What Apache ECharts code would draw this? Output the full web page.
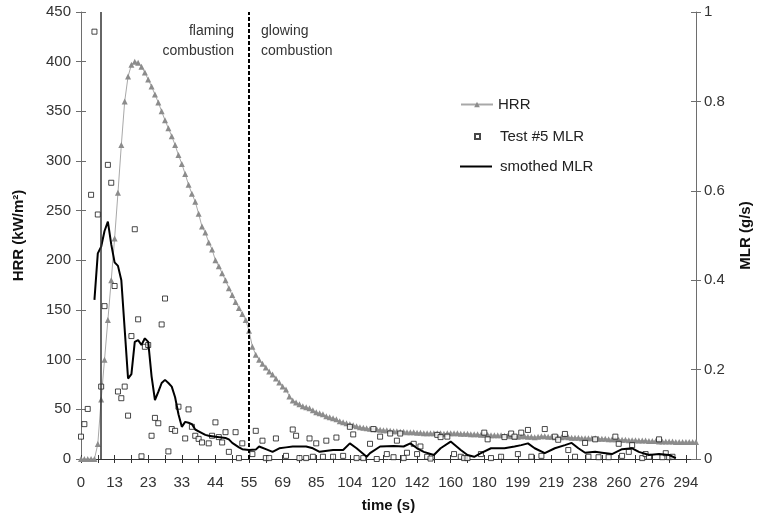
<!DOCTYPE html>
<html><head><meta charset="utf-8">
<script src="https://cdn.jsdelivr.net/npm/echarts@6/dist/echarts.min.js"></script>
<style>html,body{margin:0;padding:0;background:#fff}#c{width:761px;height:520px}</style>
</head><body><div id="c"></div>
<script>
// x-axis tick labels (time in s), one every 10 samples
const tickLabels = [0,13,23,33,44,55,69,85,104,120,142,160,180,199,219,238,260,276,294];

// HRR (kW/m2), one value per sample
const hrr = [
0,0,0,0,0,15,60,100,140,180,
222,268,316,360,385,397,400,399,395,389,
382,375,367,359,350,341,333,325,316,306,
297,287,276,267,259,247,234,228,218,211,
200,194,187,180,172,165,158,152,146,140,
129,113,105,100,96,92,88,85,81,77,
73,70,63,59,57,55,53,52,51,49,
47,46,45,43,42,41,40,38,37,36,
35,34,33,32,31.5,31,30.5,30,30,29.5,
29,29,28.5,28,28,27.5,27.5,27,27,27,
26.5,26.5,26,26,26,26,26,26,25.5,26,
26,26,26,25.5,25.5,25.5,25,25,25,24.5,
24.5,24.5,24,24,24,24,23.5,23.5,23,22.5,
22.5,23,23,22.5,22.5,22,22.5,23,23,22.5,
22.5,22,22,22,22.5,22,21.5,21.5,21.5,21,
21,21,21,21,20.5,20.5,20.5,20,20,20,
19.5,19.5,19.5,19,19,19,18.5,18.5,18.5,18,
18,18,17.5,17.5,17.5,17.5,17.5,17,17,17,
17,17,17,17
];

// Test #5 MLR (g/s): [sample index, value]
const mlrTest = [
[0,0.05],[1,0.078],[2,0.112],[3,0.591],[4,0.956],[5,0.547],[6,0.162],[7,0.342],[8,0.658],[9,0.618],
[10,0.387],[11,0.151],[12,0.136],[13,0.162],[14,0.097],[15,0.275],[16,0.514],[17,0.3125],[18,0.006],[19,0.251],
[20,0.255],[21,0.052],[22,0.092],[23,0.08],[24,0.301],[25,0.359],[26,0.017],[27,0.067],[28,0.063],[29,0.117],
[31,0.046],[32,0.111],[33,0.072],[34,0.052],[35,0.045],[36,0.037],[38,0.035],[39,0.052],[40,0.082],[41,0.049],
[42,0.037],[43,0.06],[44,0.016],[46,0.06],[47,0.002],[48,0.035],[51,0.011],[52,0.063],[54,0.041],[55,0.002],
[56,0.002],[58,0.046],[61,0.007],[63,0.066],[64,0.052],[65,0.002],[67,0.002],[68,0.046],[69,0.005],[70,0.035],
[72,0.005],[73,0.041],[75,0.005],[76,0.048],[78,0.007],[80,0.072],[81,0.055],[82,0.002],[84,0.002],[86,0.034],
[87,0.067],[88,0.0],[89,0.05],[91,0.011],[92,0.057],[93,0.004],[94,0.041],[95,0.057],[96,0.002],[97,0.014],
[99,0.034],[100,0.011],[101,0.028],[103,0.005],[104,0.001],[106,0.054],[107,0.049],[109,0.05],[111,0.011],[113,0.005],
[114,0.002],[115,0.002],[119,0.011],[120,0.059],[121,0.044],[122,0.002],[125,0.005],[126,0.049],[128,0.057],[129,0.05],
[130,0.011],[131,0.059],[133,0.065],[134,0.005],[137,0.007],[138,0.067],[141,0.05],[142,0.043],[144,0.056],[145,0.02],
[147,0.005],[150,0.036],[151,0.005],[153,0.044],[154,0.004],[157,0.004],[159,0.05],[160,0.034],[161,0.007],[163,0.016],
[164,0.031],[167,0.002],[168,0.011],[169,0.005],[172,0.044],[173,0.004],[174,0.013],[175,0.004],[176,0.005]
];

// smoothed MLR (g/s): [sample index, value]
const mlrSmoothed = [
[4,0.356],[5,0.46],[6,0.475],[7,0.51],[8,0.531],[9,0.48],[10,0.44],[11,0.432],[12,0.40],[13,0.29],
[14,0.18],[15,0.19],[16,0.262],[17,0.266],[18,0.255],[19,0.27],[20,0.262],[21,0.185],[22,0.132],[23,0.15],
[24,0.17],[25,0.177],[26,0.17],[27,0.162],[28,0.138],[29,0.1],[30,0.072],[31,0.083],[32,0.081],[33,0.078],
[34,0.066],[35,0.062],[36,0.058],[37,0.054],[38,0.052],[40,0.05],[43,0.047],[44,0.044],[45,0.036],[47,0.026],
[48,0.022],[50,0.02],[52,0.021],[53,0.028],[55,0.022],[57,0.016],[59,0.024],[61,0.026],[63,0.028],[65,0.028],
[67,0.028],[69,0.024],[71,0.016],[75,0.02],[78,0.02],[80,0.035],[82,0.024],[85,0.005],[86,0.013],[89,0.028],
[93,0.029],[96,0.028],[98,0.035],[100,0.024],[102,0.016],[105,0.009],[107,0.024],[110,0.039],[113,0.02],[115,0.009],
[117,0.005],[119,0.013],[122,0.024],[126,0.024],[129,0.028],[131,0.031],[133,0.035],[135,0.024],[138,0.013],[141,0.024],
[144,0.031],[146,0.036],[148,0.024],[150,0.014],[153,0.016],[155,0.014],[158,0.011],[161,0.022],[164,0.024],[166,0.016],
[169,0.009],[172,0.011],[175,0.009],[177,0.002]
];

// phase boundaries (sample index)
const ignitionIndex = 6;
const phaseIndex = 50;

const categories = hrr.map((_, i) => String(i));
const FONT = 'Arial, "Liberation Sans", sans-serif';
const axisGrey = '#6e6e6e';

const chart = echarts.init(document.getElementById('c'), null, {renderer: 'canvas'});
const tickOnly = (extra) => Object.assign({
  axisLine: {show: false}, axisLabel: {show: false}, splitLine: {show: false},
  axisTick: {show: true, inside: true, length: 5, lineStyle: {color: axisGrey}}
}, extra);

chart.setOption({
  animation: false,
  backgroundColor: '#fff',
  textStyle: {fontFamily: FONT},
  grid: {left: 81, right: 65, top: 12, bottom: 61, containLabel: false},
  legend: [
    {data: ['HRR'], orient: 'vertical', left: 460, top: 97, padding: 0,
     itemWidth: 32, itemHeight: 7, textStyle: {fontSize: 15, color: '#222', fontFamily: FONT}},
    {data: ['Test #5 MLR'], orient: 'vertical', left: 474, top: 129, padding: 0,
     itemWidth: 5, itemHeight: 5, icon: 'rect',
     textStyle: {fontSize: 15, color: '#222', fontFamily: FONT, padding: [0, 0, 0, 15]}},
    {data: ['smothed MLR'], orient: 'vertical', left: 460, top: 159, padding: 0,
     itemWidth: 32, itemHeight: 7, icon: 'path://M0,0h32v2h-32z',
     textStyle: {fontSize: 15, color: '#222', fontFamily: FONT, padding: [0, 0, 0, 3]}}
  ],
  xAxis: [
    {type: 'category', data: categories, boundaryGap: false, position: 'bottom',
     axisLine: {lineStyle: {color: '#333', width: 1}},
     axisTick: {interval: 4, length: 4, lineStyle: {color: '#333'}},
     axisLabel: {interval: 9, margin: 16, fontSize: 15, color: '#333',
       formatter: (v, i) => (i % 10 === 0 ? String(tickLabels[i / 10]) : '')},
     name: 'time (s)', nameLocation: 'middle', nameGap: 39,
     nameTextStyle: {fontSize: 15, fontWeight: 'bold', color: '#111'}},
    tickOnly({type: 'category', data: categories, boundaryGap: false, position: 'bottom',
     axisTick: {show: true, inside: true, interval: 4, length: 4, lineStyle: {color: '#333'}}})
  ],
  yAxis: [
    {type: 'value', min: 0, max: 450, interval: 50, position: 'left',
     axisLine: {show: true, lineStyle: {color: axisGrey}},
     axisTick: {show: true, length: 5, lineStyle: {color: axisGrey}},
     axisLabel: {fontSize: 15, color: '#333', margin: 10},
     splitLine: {show: false},
     name: 'HRR (kW/m²)', nameLocation: 'middle', nameGap: 55, nameRotate: 90,
     nameTextStyle: {fontSize: 15, fontWeight: 'bold', color: '#111'}},
    {type: 'value', min: 0, max: 1, interval: 0.2, position: 'right',
     axisLine: {show: true, lineStyle: {color: axisGrey}},
     axisTick: {show: true, length: 5, lineStyle: {color: axisGrey}},
     axisLabel: {fontSize: 15, color: '#333', margin: 8},
     splitLine: {show: false},
     name: 'MLR (g/s)', nameLocation: 'middle', nameGap: 42, nameRotate: 90,
     nameTextStyle: {fontSize: 15, fontWeight: 'bold', color: '#111'}},
    tickOnly({type: 'value', min: 0, max: 450, interval: 50, position: 'left'}),
    tickOnly({type: 'value', min: 0, max: 1, interval: 0.2, position: 'right'})
  ],
  series: [
    {name: 'HRR', type: 'line', xAxisIndex: 0, yAxisIndex: 0, data: hrr,
     symbol: 'triangle', symbolSize: 6, showAllSymbol: true,
     lineStyle: {color: '#a8a8a8', width: 1}, itemStyle: {color: '#8c8c8c'}, z: 2,
     markLine: {silent: true, symbol: ['none', 'none'], label: {show: false},
       data: [
         {xAxis: ignitionIndex, lineStyle: {type: 'solid', color: '#333', width: 1.5}},
         {xAxis: phaseIndex, lineStyle: {type: [4, 2], color: '#000', width: 2}}
       ]},
     markPoint: {silent: true, symbol: 'circle', symbolSize: 0,
       data: [
         {coord: [phaseIndex, 421], label: {show: true, position: 'left', distance: 15,
           formatter: 'flaming\ncombustion', align: 'right', lineHeight: 20,
           fontSize: 14, color: '#333', fontFamily: FONT}},
         {coord: [phaseIndex, 421], label: {show: true, position: 'right', distance: 12,
           formatter: 'glowing\ncombustion', align: 'left', lineHeight: 20,
           fontSize: 14, color: '#333', fontFamily: FONT}}
       ]}},
    {name: 'Test #5 MLR', type: 'scatter', xAxisIndex: 0, yAxisIndex: 1, data: mlrTest,
     symbol: 'rect', symbolSize: 5,
     itemStyle: {color: '#fff', borderColor: '#1a1a1a', borderWidth: 1}, z: 3},
    {name: 'smothed MLR', type: 'line', xAxisIndex: 0, yAxisIndex: 1, data: mlrSmoothed,
     symbol: 'none', lineStyle: {color: '#000', width: 2}, itemStyle: {color: '#000'}, z: 4}
  ]
});
</script></body></html>
